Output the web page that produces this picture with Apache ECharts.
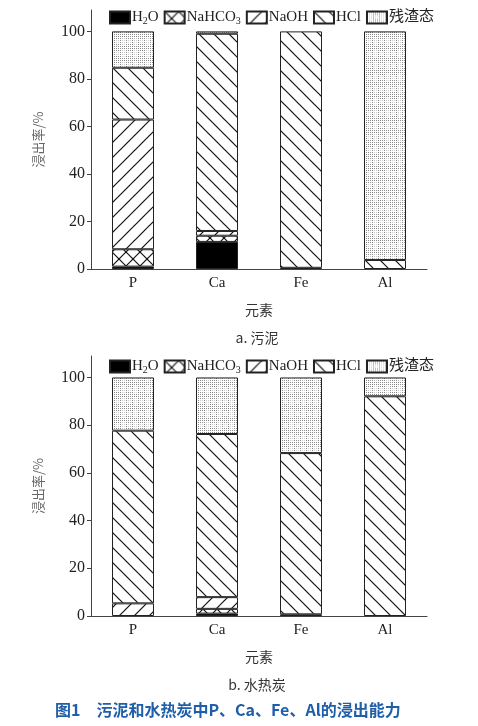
<!DOCTYPE html>
<html>
<head>
<meta charset="utf-8">
<script src="https://cdn.jsdelivr.net/npm/echarts@6/dist/echarts.min.js"></script>
<style>html,body{margin:0;padding:0;background:#fff}#c{width:478px;height:726px}</style>
</head>
<body>
<div id="c"></div>
<script>
// ---- data ----
var categories = ['P', 'Ca', 'Fe', 'Al'];
var seriesNames = ['H2O', 'NaHCO3', 'NaOH', 'HCl', '残渣态'];
var yTicks = [0, 20, 40, 60, 80, 100];
// a. 污泥 (sludge)
var sludgeH2O     = [1.0, 11.4, null, null];
var sludgeNaHCO3  = [7.3, 2.6, null, null];
var sludgeNaOH    = [54.6, 2.0, 0.5, null];
var sludgeHCl     = [21.8, 83.0, 99.5, 3.8];
var sludgeResidue = [15.3, 1.0, null, 96.2];
// b. 水热炭 (hydrochar)
var charH2O     = [null, 1.0, 0.7, null];
var charNaHCO3  = [null, 2.0, null, null];
var charNaOH    = [5.3, 4.9, null, null];
var charHCl     = [72.4, 68.4, 67.6, 92.1];
var charResidue = [22.3, 23.7, 31.7, 7.9];

// ---- patterns ----
function hatch(dir, p) {
  var c = document.createElement('canvas');
  c.width = p; c.height = p;
  var g = c.getContext('2d');
  g.fillStyle = '#fff'; g.fillRect(0, 0, p, p);
  g.strokeStyle = '#111'; g.lineWidth = 1.2;
  for (var k = -1; k <= 1; k++) {
    g.beginPath();
    if (dir === '\\' || dir === 'x') { g.moveTo(k * p - 1, -1); g.lineTo(k * p + p + 1, p + 1); }
    g.stroke();
    g.beginPath();
    if (dir === '/' || dir === 'x') { g.moveTo(k * p - 1, p + 1); g.lineTo(k * p + p + 1, -1); }
    g.stroke();
  }
  return { image: c, repeat: 'repeat' };
}
function dots() {
  var p = 12;
  var c = document.createElement('canvas');
  c.width = p; c.height = p;
  var g = c.getContext('2d');
  g.fillStyle = '#fff'; g.fillRect(0, 0, p, p);
  for (var x = 0; x < p; x += 2) {
    for (var y = 0; y < p; y += 2) {
      var light = (x >= 2 && x < 6 && y >= 2 && y < 10) || (x >= 8 && x < 12 && y >= 4 && y < 8);
      g.fillStyle = light ? '#cfcfcf' : '#8a8a8a';
      g.fillRect(x, y, 1, 1);
    }
  }
  return { image: c, repeat: 'repeat' };
}
var fills = ['#000', hatch('x', 14), hatch('/', 15), hatch('\\', 15), dots()];

var serif = '"Liberation Serif", "DejaVu Serif", "Noto Sans CJK SC", serif';
var cjk = '"Noto Sans CJK SC", sans-serif';

function mkSeries(dataArr, gi) {
  return dataArr.map(function (d, i) {
    return {
      name: seriesNames[i], type: 'bar', stack: 's' + gi,
      xAxisIndex: gi, yAxisIndex: gi, barWidth: 42,
      data: d,
      itemStyle: { color: fills[i], borderColor: '#222', borderWidth: 1 },
      emphasis: { disabled: true }, animation: false
    };
  });
}

function mkLegend(top) {
  return {
    top: top, left: 104, itemWidth: 20, itemHeight: 12, itemGap: 5,
    icon: 'rect', selectedMode: false, data: seriesNames,
    formatter: function (n) {
      if (n === 'H2O') return 'H{s|2}O';
      if (n === 'NaHCO3') return 'NaHCO{s|3}';
      return n;
    },
    textStyle: { fontFamily: serif, fontSize: 15, color: '#222', padding: [0, 0, 0, -3],
      rich: { s: { fontFamily: serif, fontSize: 10, color: '#222', padding: [8, 0, 0, 0] } } }
  };
}

function mkX(gi) {
  return {
    gridIndex: gi, type: 'category', data: categories,
    axisLine: { lineStyle: { color: '#444', width: 1 } },
    axisTick: { show: false },
    axisLabel: { fontFamily: serif, fontSize: 15, color: '#222', margin: 7 },
    name: '元素', nameLocation: 'middle', nameGap: 34,
    nameTextStyle: { fontFamily: cjk, fontSize: 14, color: '#333' }
  };
}
function mkY(gi) {
  return {
    gridIndex: gi, type: 'value', min: 0, max: 109, interval: 20,
    axisLine: { show: true, lineStyle: { color: '#444', width: 1 } },
    axisTick: { show: true, length: 4, customValues: yTicks, lineStyle: { color: '#444' } },
    axisLabel: { customValues: yTicks, fontFamily: serif, fontSize: 16, color: '#222', margin: 6 },
    splitLine: { show: false },
    name: '浸出率/%', nameLocation: 'middle', nameGap: 46, nameRotate: 90,
    nameTextStyle: { fontFamily: cjk, fontSize: 13, color: '#666' }
  };
}

var chart = echarts.init(document.getElementById('c'), null, { renderer: 'canvas' });
chart.setOption({
  backgroundColor: '#fff',
  animation: false,
  legend: [mkLegend(5), mkLegend(354)],
  grid: [
    { left: 91, width: 336, top: 10, height: 259 },
    { left: 91, width: 336, top: 356, height: 260 }
  ],
  xAxis: [mkX(0), mkX(1)],
  yAxis: [mkY(0), mkY(1)],
  series: mkSeries([sludgeH2O, sludgeNaHCO3, sludgeNaOH, sludgeHCl, sludgeResidue], 0)
    .concat(mkSeries([charH2O, charNaHCO3, charNaOH, charHCl, charResidue], 1)),
  graphic: [
    { type: 'text', x: 257, y: 338, style: { text: 'a. 污泥', font: '14px ' + cjk, fill: '#333', textAlign: 'center', textVerticalAlign: 'middle' } },
    { type: 'text', x: 257, y: 685, style: { text: 'b. 水热炭', font: '14px ' + cjk, fill: '#333', textAlign: 'center', textVerticalAlign: 'middle' } },
    { type: 'text', x: 55, y: 710, style: { text: '图1　污泥和水热炭中P、Ca、Fe、Al的浸出能力', font: 'bold 16px ' + cjk, fill: '#1f5ea8', textAlign: 'left', textVerticalAlign: 'middle' } }
  ]
});
</script>
</body>
</html>
